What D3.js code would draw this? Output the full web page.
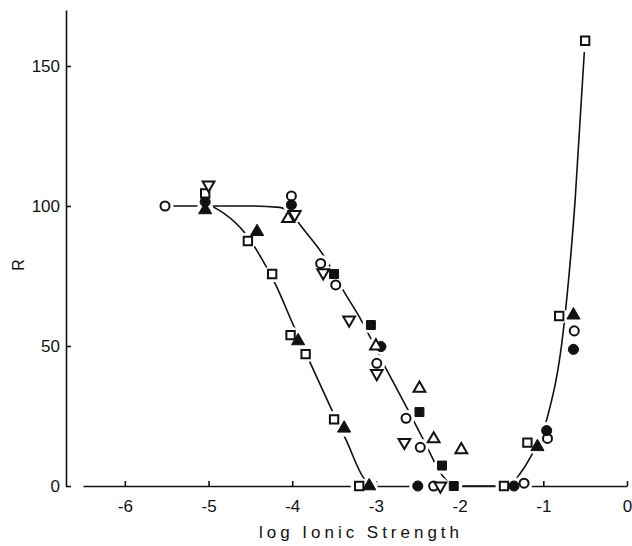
<!DOCTYPE html>
<html>
<head>
<meta charset="utf-8">
<script src="https://cdn.jsdelivr.net/npm/d3@7"></script>
<style>
  body { margin: 0; background: #ffffff; }
  svg { display: block; }
  text { font-family: "Liberation Sans", Arial, Helvetica, sans-serif; fill: #111; }
</style>
</head>
<body>
<svg id="chart" width="632" height="546"></svg>
<script>
// measured points, [log ionic strength, R], one array per marker symbol
const openCircle   = [[-5.52, 100], [-4.01, 103.6], [-3.66, 79.5], [-3.48, 71.8], [-2.99, 43.8], [-2.64, 24.2], [-2.47, 13.8], [-2.31, 0], [-1.23, 1], [-0.95, 17], [-0.63, 55.4]];
const filledCircle = [[-5.04, 101.5], [-4.01, 100.4], [-2.94, 49.8], [-2.50, 0], [-1.35, 0], [-0.96, 19.8], [-0.64, 48.8]];
const openSquare   = [[-5.04, 104.5], [-4.53, 87.5], [-4.24, 75.7], [-4.02, 53.9], [-3.84, 47.1], [-3.50, 23.8], [-3.20, 0], [-1.47, 0], [-1.19, 15.5], [-0.81, 60.7], [-0.50, 159]];
const filledSquare = [[-3.50, 75.7], [-3.06, 57.5], [-2.48, 26.4], [-2.21, 7.3], [-2.07, 0]];
const openTriUp    = [[-4.05, 95.5], [-3.00, 50], [-2.48, 34.9], [-2.31, 16.8], [-1.98, 12.9]];
const filledTriUp  = [[-5.04, 98.6], [-4.42, 90.8], [-3.93, 51.8], [-3.38, 20.6], [-3.08, 0], [-1.07, 14], [-0.64, 61]];
const openTriDown  = [[-5.00, 107.5], [-3.97, 97], [-3.63, 76.2], [-3.32, 59.3], [-2.99, 40.2], [-2.66, 15.6], [-2.23, 0]];

// hand drawn fitted curves
const curveA = [[-5.5, 100], [-5.0, 100], [-4.8, 97], [-4.57, 90.5], [-4.4, 83], [-4.2, 72], [-3.98, 57], [-3.77, 43], [-3.54, 28], [-3.35, 16], [-3.15, 3], [-3.05, 0]];
const curveB = [[-5.0, 100], [-4.5, 100], [-4.15, 99.5], [-4.0, 97], [-3.9, 93], [-3.63, 82.5], [-3.38, 69.3], [-3.21, 61], [-2.87, 41.4], [-2.63, 27.9], [-2.43, 16.4], [-2.2, 3.5], [-2.05, 0], [-1.55, 0]];
const curveC = [[-1.55, 0], [-1.4, 0.5], [-1.29, 3.9], [-1.15, 10.5], [-0.96, 23.6], [-0.76, 55.7], [-0.62, 102], [-0.51, 155]];

const xTicks = [-6, -5, -4, -3, -2, -1, 0];
const yTicks = [0, 50, 100, 150];

const svg = d3.select("#chart");

const x = d3.scaleLinear().domain([-6.5, 0]).range([83, 627]);
const y = d3.scaleLinear().domain([0, 170]).range([486, 10]);

// x axis, ticks pointing up
const xAxis = svg.append("g")
    .attr("transform", `translate(0,${y(0)})`)
    .call(d3.axisBottom(x)
        .tickValues(xTicks)
        .tickSizeInner(-5)
        .tickSizeOuter(0)
        .tickPadding(14)
        .tickFormat(d => d === 0 ? "0" : "-" + Math.abs(d)));

// y axis, ticks pointing right
const yAxis = svg.append("g")
    .attr("transform", "translate(66,0)")
    .call(d3.axisLeft(y)
        .tickValues(yTicks)
        .tickSizeInner(-5)
        .tickSizeOuter(0)
        .tickPadding(6));

[xAxis, yAxis].forEach(g => {
    g.selectAll("path, line").attr("stroke", "#111").attr("stroke-width", 1.6);
    g.selectAll("text")
        .style("font-size", "17px")
        .attr("fill", "#111");
});

// axis titles
svg.append("text")
    .attr("x", 359)
    .attr("y", 538)
    .attr("text-anchor", "middle")
    .attr("textLength", 200)
    .attr("lengthAdjust", "spacing")
    .style("font-size", "17px")
    .text("log Ionic Strength");

svg.append("text")
    .attr("transform", "translate(24,265) rotate(-90)")
    .attr("text-anchor", "middle")
    .style("font-size", "16px")
    .text("R");

// curves
const line = d3.line()
    .x(d => x(d[0]))
    .y(d => y(d[1]))
    .curve(d3.curveMonotoneX);

[curveA, curveB, curveC].forEach(c => {
    svg.append("path")
        .attr("d", line(c))
        .attr("fill", "none")
        .attr("stroke", "#111")
        .attr("stroke-width", 1.6);
});

const series = [
    { data: openCircle, symbol: d3.symbolCircle, size: 64, filled: false },
    { data: filledCircle, symbol: d3.symbolCircle, size: 80, filled: true },
    { data: openSquare, symbol: d3.symbolSquare, size: 70, filled: false },
    { data: filledSquare, symbol: d3.symbolSquare, size: 80, filled: true },
    { data: openTriUp, symbol: d3.symbolTriangle, size: 60, filled: false },
    { data: filledTriUp, symbol: d3.symbolTriangle, size: 75, filled: true },
    { data: openTriDown, symbol: d3.symbolTriangle, size: 60, filled: false, flip: true }
];

// white gaps in the lines around every marker
const allPoints = series.flatMap(s => s.data);
svg.append("g")
    .selectAll("circle")
    .data(allPoints)
    .join("circle")
    .attr("cx", d => x(d[0]))
    .attr("cy", d => y(d[1]))
    .attr("r", 8.5)
    .attr("fill", "#ffffff");

series.forEach(s => {
    svg.append("g")
        .selectAll("path")
        .data(s.data)
        .join("path")
        .attr("d", d3.symbol().type(s.symbol).size(s.size))
        .attr("transform", d => `translate(${x(d[0])},${y(d[1])})` + (s.flip ? " rotate(180)" : ""))
        .attr("fill", s.filled ? "#111" : "#ffffff")
        .attr("stroke", "#111")
        .attr("stroke-width", s.filled ? 1 : 2);
});
</script>
</body>
</html>
